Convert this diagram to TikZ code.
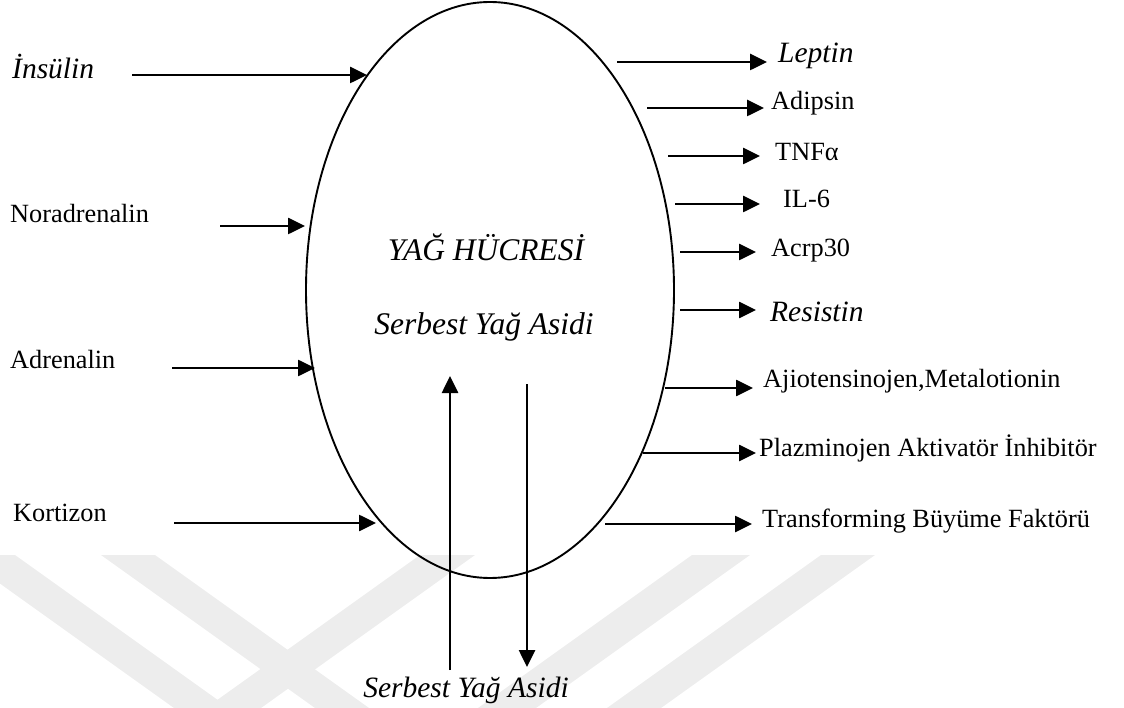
\documentclass[tikz,border=0pt]{standalone}
\usepackage{fontspec}
\setmainfont{Liberation Serif}
\usetikzlibrary{arrows.meta,shapes.geometric}
\begin{document}
\begin{tikzpicture}[x=1pt,y=-1pt,
  arr/.style={line width=2.6pt,-{Triangle[length=17pt,width=16pt]}},
  up/.style={font=\fontsize{26.3}{30}\selectfont, inner sep=0pt, anchor=base west},
  it/.style={font=\fontsize{29.5}{34}\selectfont\itshape, inner sep=0pt, anchor=base west},
  mid/.style={font=\fontsize{31.5}{36}\selectfont\itshape, inner sep=0pt, anchor=base},
  wm/.style={fill=black!7, draw=none}]
\useasboundingbox (0,0) rectangle (1124,708);
% watermark
\fill[wm] (-40,555) -- (15,555) -- (229,708) -- (174,708) -- cycle;
\fill[wm] (101,555) -- (155,555) -- (369,708) -- (315,708) -- cycle;
\fill[wm] (420,555) -- (475,555) -- (261,708) -- (206,708) -- cycle;
\fill[wm] (692,555) -- (750,555) -- (536,708) -- (478,708) -- cycle;
\fill[wm] (821,555) -- (875,555) -- (661,708) -- (607,708) -- cycle;
% cell
\node[draw, ellipse, line width=1.9pt, minimum width=368pt, minimum height=576pt, inner sep=0pt] (cell) at (490,290) {};
\node[mid] (t1) at (486,261) {YAĞ HÜCRESİ};
\node[mid] (t2) at (484,335) {Serbest Yağ Asidi};
% inputs
\node[it] (ins) at (12,79) {İnsülin};
\node[up] (nor) at (10,223) {Noradrenalin};
\node[up] (adr) at (10,368) {Adrenalin};
\node[up] (kor) at (13,521) {Kortizon};
\coordinate (sIns) at (132,75); \coordinate (eIns) at (367,75);
\coordinate (sNor) at (220,226); \coordinate (eNor) at (305,226);
\coordinate (sAdr) at (172,368); \coordinate (eAdr) at (315,368);
\coordinate (sKor) at (174,523); \coordinate (eKor) at (376,523);
\draw[arr] (sIns) -- (eIns);
\draw[arr] (sNor) -- (eNor);
\draw[arr] (sAdr) -- (eAdr);
\draw[arr] (sKor) -- (eKor);
% outputs
\node[it] (lep) at (778,63) {Leptin};
\node[up] (adi) at (771,110) {Adipsin};
\node[up] (tnf) at (775,161) {TNFα};
\node[up] (il6) at (783,208) {IL-6};
\node[up] (acr) at (771,257) {Acrp30};
\node[it] (res) at (770,322) {Resistin};
\node[up] (aji) at (763,388) {Ajiotensinojen,Metalotionin};
\node[up] (pla) at (759,456) {Plazminojen Aktivatör İnhibitör};
\node[up] (tra) at (762,527) {Transforming Büyüme Faktörü};
\coordinate (oLep) at (617,62);
\coordinate (oAdi) at (647,108);
\coordinate (oTnf) at (668,156);
\coordinate (oIl6) at (675,204);
\coordinate (oAcr) at (680,252);
\coordinate (oRes) at (680,310);
\coordinate (oAji) at (665,388);
\coordinate (oPla) at (643,453);
\coordinate (oTra) at (605,524);
\draw[arr,shorten >=11pt] (oLep) -- (oLep -| lep.west);
\draw[arr,shorten >=7pt] (oAdi) -- (oAdi -| adi.west);
\draw[arr,shorten >=15pt] (oTnf) -- (oTnf -| tnf.west);
\draw[arr,shorten >=23pt] (oIl6) -- (oIl6 -| il6.west);
\draw[arr,shorten >=15pt] (oAcr) -- (oAcr -| acr.west);
\draw[arr,shorten >=14pt] (oRes) -- (oRes -| res.west);
\draw[arr,shorten >=10pt] (oAji) -- (oAji -| aji.west);
\draw[arr,shorten >=3pt] (oPla) -- (oPla -| pla.west);
\draw[arr,shorten >=10pt] (oTra) -- (oTra -| tra.west);
% free fatty acid exchange
\node[it, anchor=base] (sya) at (466,697) {Serbest Yağ Asidi};
\coordinate (bUp) at (450,670); \coordinate (tUp) at (450,376);
\coordinate (tDn) at (527,384); \coordinate (bDn) at (527,667);
\draw[arr] (bUp) -- (tUp);
\draw[arr] (tDn) -- (bDn);
\end{tikzpicture}
\end{document}
